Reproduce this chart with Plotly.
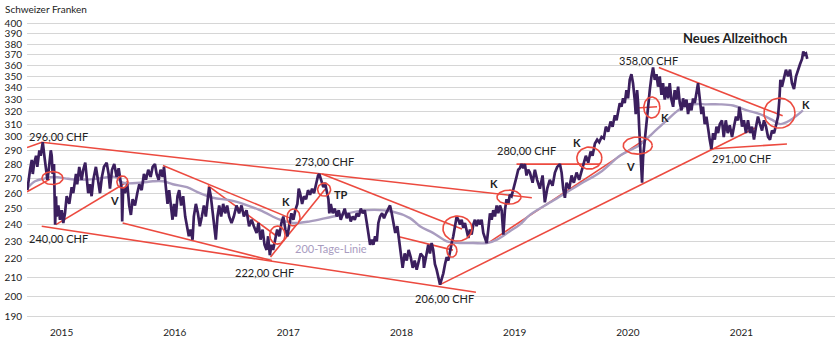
import math
import pandas as pd
import plotly.graph_objects as go

# ---------------------------------------------------------------------------
# Data: closing prices (CHF) as (decimal year, price) pairs
# ---------------------------------------------------------------------------
close_2014 = [(2014.782, 262), (2014.791, 269), (2014.806, 276), (2014.821, 283), (2014.830, 273),
              (2014.841, 280), (2014.859, 286), (2014.870, 278), (2014.888, 290), (2014.900, 286),
              (2014.918, 296), (2014.929, 288), (2014.947, 278), (2014.959, 269), (2014.971, 276),
              (2014.989, 290), (2014.997, 286)]
close_2015 = [(2015.006, 273), (2015.018, 280), (2015.028, 240), (2015.036, 258), (2015.041, 245),
              (2015.056, 252), (2015.071, 243), (2015.086, 249), (2015.100, 241), (2015.115, 247),
              (2015.130, 258), (2015.153, 253), (2015.174, 264), (2015.188, 260), (2015.212, 273),
              (2015.223, 266), (2015.241, 278), (2015.262, 269), (2015.276, 276), (2015.294, 281),
              (2015.306, 271), (2015.320, 260), (2015.335, 266), (2015.350, 258), (2015.365, 269),
              (2015.388, 278), (2015.406, 269), (2015.424, 260), (2015.441, 271), (2015.459, 278),
              (2015.483, 281), (2015.500, 273), (2015.512, 263), (2015.530, 276), (2015.550, 280),
              (2015.571, 271), (2015.589, 277), (2015.600, 269), (2015.615, 263), (2015.620, 242),
              (2015.629, 264), (2015.644, 260), (2015.665, 266), (2015.682, 252), (2015.697, 246),
              (2015.712, 256), (2015.733, 252), (2015.753, 260), (2015.771, 266), (2015.792, 262),
              (2015.812, 273), (2015.830, 269), (2015.850, 276), (2015.871, 271), (2015.889, 278),
              (2015.909, 280), (2015.924, 273), (2015.942, 269), (2015.959, 276), (2015.977, 271),
              (2015.989, 278)]
close_2016 = [(2016.006, 264), (2016.021, 253), (2016.035, 262), (2016.050, 252), (2016.065, 243),
              (2016.079, 253), (2016.094, 245), (2016.109, 258), (2016.124, 262), (2016.141, 252),
              (2016.159, 258), (2016.177, 245), (2016.194, 239), (2016.209, 233), (2016.224, 237),
              (2016.242, 231), (2016.253, 245), (2016.271, 253), (2016.289, 247), (2016.306, 239),
              (2016.324, 245), (2016.342, 252), (2016.359, 245), (2016.377, 256), (2016.388, 264),
              (2016.403, 258), (2016.418, 249), (2016.432, 241), (2016.447, 231), (2016.462, 245),
              (2016.477, 252), (2016.494, 245), (2016.512, 253), (2016.530, 247), (2016.547, 252),
              (2016.565, 245), (2016.586, 241), (2016.606, 245), (2016.630, 252), (2016.653, 247),
              (2016.674, 252), (2016.695, 245), (2016.718, 249), (2016.741, 239), (2016.763, 243),
              (2016.783, 239), (2016.807, 235), (2016.824, 241), (2016.842, 231), (2016.860, 237),
              (2016.877, 228), (2016.895, 225), (2016.909, 233), (2016.924, 222), (2016.939, 228),
              (2016.953, 225), (2016.971, 231), (2016.989, 237)]
close_2017 = [(2017.006, 233), (2017.024, 241), (2017.041, 245), (2017.059, 237), (2017.077, 233),
              (2017.094, 241), (2017.112, 247), (2017.130, 243), (2017.147, 249), (2017.165, 253),
              (2017.177, 263), (2017.189, 260), (2017.207, 253), (2017.224, 258), (2017.242, 256),
              (2017.259, 262), (2017.277, 259), (2017.295, 263), (2017.312, 260), (2017.330, 266),
              (2017.348, 272), (2017.359, 273), (2017.377, 269), (2017.394, 264), (2017.409, 267),
              (2017.424, 260), (2017.439, 256), (2017.447, 247), (2017.460, 253), (2017.477, 247),
              (2017.495, 250), (2017.513, 245), (2017.530, 249), (2017.548, 243), (2017.566, 247),
              (2017.583, 250), (2017.601, 244), (2017.619, 247), (2017.636, 242), (2017.654, 245),
              (2017.672, 243), (2017.689, 247), (2017.707, 245), (2017.725, 250), (2017.742, 247),
              (2017.760, 249), (2017.778, 241), (2017.792, 233), (2017.807, 228), (2017.822, 231),
              (2017.836, 228), (2017.851, 233), (2017.866, 230), (2017.880, 241), (2017.895, 245),
              (2017.913, 247), (2017.930, 244), (2017.948, 247), (2017.966, 250), (2017.983, 252),
              (2017.998, 247)]
close_2018 = [(2018.012, 241), (2018.030, 235), (2018.048, 239), (2018.065, 229), (2018.083, 219),
              (2018.095, 215), (2018.113, 223), (2018.131, 219), (2018.148, 225), (2018.166, 221),
              (2018.184, 215), (2018.201, 219), (2018.219, 214), (2018.237, 219), (2018.254, 223),
              (2018.277, 221), (2018.283, 215), (2018.301, 221), (2018.321, 228), (2018.336, 223),
              (2018.351, 229), (2018.365, 225), (2018.380, 217), (2018.395, 214), (2018.410, 210),
              (2018.425, 206), (2018.440, 209), (2018.454, 212), (2018.469, 217), (2018.484, 221),
              (2018.498, 219), (2018.513, 225), (2018.528, 229), (2018.542, 233), (2018.557, 239),
              (2018.572, 245), (2018.587, 243), (2018.601, 240), (2018.616, 243), (2018.630, 238),
              (2018.645, 241), (2018.660, 237), (2018.675, 232), (2018.689, 237), (2018.704, 234),
              (2018.719, 240), (2018.733, 243), (2018.748, 239), (2018.762, 243), (2018.777, 240),
              (2018.792, 243), (2018.807, 235), (2018.822, 232), (2018.837, 229), (2018.851, 237),
              (2018.866, 247), (2018.881, 243), (2018.895, 249), (2018.910, 245), (2018.925, 252),
              (2018.939, 247), (2018.954, 252), (2018.969, 249), (2018.984, 234), (2018.998, 249)]
close_2019 = [(2019.013, 256), (2019.028, 253), (2019.042, 259), (2019.057, 258), (2019.072, 262),
              (2019.087, 266), (2019.101, 271), (2019.116, 276), (2019.130, 277), (2019.145, 280),
              (2019.160, 277), (2019.175, 280), (2019.189, 272), (2019.204, 276), (2019.219, 274),
              (2019.243, 267), (2019.263, 276), (2019.283, 269), (2019.307, 263), (2019.331, 272),
              (2019.351, 254), (2019.372, 263), (2019.395, 269), (2019.419, 265), (2019.440, 274),
              (2019.460, 278), (2019.484, 280), (2019.499, 274), (2019.513, 263), (2019.528, 257),
              (2019.543, 267), (2019.566, 263), (2019.587, 272), (2019.607, 267), (2019.631, 274),
              (2019.654, 269), (2019.675, 276), (2019.696, 281), (2019.713, 286), (2019.734, 281),
              (2019.755, 289), (2019.772, 286), (2019.793, 295), (2019.813, 298), (2019.831, 296),
              (2019.852, 300), (2019.872, 299), (2019.890, 308), (2019.910, 304), (2019.931, 312),
              (2019.949, 308), (2019.969, 317), (2019.984, 313), (2019.999, 322)]
close_2020 = [(2020.013, 327), (2020.028, 324), (2020.042, 331), (2020.057, 327), (2020.072, 338),
              (2020.086, 331), (2020.101, 347), (2020.116, 352), (2020.130, 344), (2020.145, 330),
              (2020.154, 318), (2020.166, 338), (2020.175, 327), (2020.184, 308), (2020.196, 290),
              (2020.205, 269), (2020.210, 267), (2020.219, 285), (2020.234, 298), (2020.249, 313),
              (2020.263, 324), (2020.278, 338), (2020.293, 350), (2020.307, 358), (2020.322, 347),
              (2020.337, 352), (2020.351, 341), (2020.366, 350), (2020.381, 334), (2020.395, 344),
              (2020.410, 330), (2020.425, 341), (2020.440, 331), (2020.454, 344), (2020.469, 330),
              (2020.484, 324), (2020.498, 338), (2020.513, 330), (2020.528, 341), (2020.543, 327),
              (2020.558, 321), (2020.572, 331), (2020.587, 324), (2020.602, 330), (2020.616, 318),
              (2020.631, 327), (2020.646, 321), (2020.660, 331), (2020.675, 327), (2020.690, 338),
              (2020.704, 344), (2020.719, 331), (2020.734, 318), (2020.748, 324), (2020.763, 310),
              (2020.778, 316), (2020.793, 305), (2020.807, 298), (2020.822, 291), (2020.837, 303),
              (2020.852, 298), (2020.867, 308), (2020.881, 303), (2020.896, 310), (2020.915, 313),
              (2020.931, 300), (2020.949, 313), (2020.966, 303), (2020.984, 309)]
close_2021 = [(2021.002, 300), (2021.019, 308), (2021.037, 316), (2021.055, 313), (2021.066, 324),
              (2021.078, 318), (2021.090, 308), (2021.107, 313), (2021.125, 303), (2021.143, 313),
              (2021.161, 303), (2021.178, 308), (2021.196, 298), (2021.214, 308), (2021.231, 316),
              (2021.249, 310), (2021.267, 305), (2021.284, 313), (2021.302, 308), (2021.320, 300),
              (2021.337, 298), (2021.355, 305), (2021.373, 303), (2021.390, 309), (2021.408, 316),
              (2021.420, 330), (2021.429, 347), (2021.443, 341), (2021.461, 350), (2021.478, 356),
              (2021.496, 350), (2021.514, 356), (2021.531, 344), (2021.549, 339), (2021.567, 350),
              (2021.584, 356), (2021.602, 361), (2021.620, 366), (2021.631, 373), (2021.643, 370),
              (2021.655, 371), (2021.666, 366)]

# 200-day moving average (CHF)
ma200 = [(2014.779, 263), (2014.850, 268), (2014.938, 270), (2015.026, 271), (2015.115, 270),
         (2015.247, 269), (2015.424, 270), (2015.556, 271), (2015.627, 267), (2015.777, 267),
         (2015.891, 268), (2015.980, 268), (2016.068, 266), (2016.192, 264), (2016.306, 260),
         (2016.421, 257), (2016.598, 255), (2016.836, 249), (2017.012, 243), (2017.127, 241),
         (2017.277, 242), (2017.480, 245), (2017.780, 249), (2018.010, 248), (2018.160, 244),
         (2018.248, 239), (2018.363, 235), (2018.486, 230), (2018.601, 229), (2018.716, 229),
         (2018.840, 229), (2018.928, 231), (2019.042, 236), (2019.130, 240), (2019.219, 246),
         (2019.422, 255), (2019.660, 266), (2019.837, 274), (2020.013, 286), (2020.101, 290),
         (2020.190, 294), (2020.305, 303), (2020.428, 313), (2020.543, 322), (2020.658, 326),
         (2020.781, 326), (2020.896, 326), (2021.011, 325), (2021.134, 321), (2021.249, 318),
         (2021.364, 313), (2021.425, 310), (2021.514, 313), (2021.628, 321)]

# Trend lines: (start year, start CHF, end year, end CHF)
trend_lines = [
    (2014.779, 292, 2014.912, 296),
    (2014.909, 296, 2019.236, 257),
    (2014.779, 261, 2014.982, 269.5),
    (2015.035, 240, 2015.673, 268),
    (2014.909, 239, 2018.742, 202),
    (2015.624, 241, 2016.942, 219),
    (2016.930, 221, 2017.410, 262.6),
    (2015.980, 279, 2017.101, 244),
    (2016.377, 265, 2016.986, 233),
    (2017.383, 273, 2018.619, 237.3),
    (2018.054, 232.8, 2018.539, 224.9),
    (2018.425, 206, 2021.205, 307),
    (2018.848, 229, 2020.216, 297),
    (2019.101, 280, 2019.837, 280),
    (2020.160, 323, 2020.342, 324),
    (2020.358, 358, 2021.449, 316.6),
    (2020.807, 291, 2021.487, 294.7),
]

# Highlighted zones: centre (year, CHF)
circle_at = [(2015.004, 270.2), (2015.622, 267.5), (2016.990, 233.7), (2017.131, 244.4),
             (2017.401, 262.4), (2018.579, 237.6), (2018.530, 224.6), (2019.034, 257.4),
             (2019.744, 284.3), (2020.172, 293.5), (2020.296, 323.4), (2021.421, 318.8)]
# ... and their on-screen size (width, height) in pixels
circle_px = [(21, 13), (11, 12), (15, 18), (13, 17), (13, 13), (29, 25), (10, 13), (24, 14),
             (25, 22), (29, 17), (16, 21), (31, 30)]

# Price labels: (text, year, CHF) – anchored on the left
price_labels = [("296,00 CHF", 2014.781, 300.7), ("273,00 CHF", 2017.127, 281.6),
                ("240,00 CHF", 2014.781, 231.6), ("222,00 CHF", 2016.598, 212.3),
                ("206,00 CHF", 2018.186, 198.6), ("280,00 CHF", 2018.910, 290.2),
                ("358,00 CHF", 2019.987, 364.3), ("291,00 CHF", 2020.807, 284.1)]

# Signal markers: (text, year, CHF) – centred
signal_labels = [("V", 2015.556, 255.5), ("V", 2020.110, 278.1), ("K", 2017.063, 254.4),
                 ("TP", 2017.546, 259.2), ("K", 2018.901, 266.3), ("K", 2019.631, 295.7),
                 ("K", 2020.410, 315.4), ("K", 2021.652, 326.2)]

y_ticks = list(range(190, 401, 10))
year_ticks = [2015, 2016, 2017, 2018, 2019, 2020, 2021]

# ---------------------------------------------------------------------------
FONT = "Lato"
DARK = "#3b1f5e"
MA_COL = "#a99cbf"
RED = "#ec4a3f"
TXT = "#222222"

W, H = 840, 342
M = dict(l=27, r=5, t=14, b=20)
X_RANGE = (2014.779, 2021.911)
Y_RANGE = (187.3, 410.3)
PX_PER_YEAR = (W - M["l"] - M["r"]) / (X_RANGE[1] - X_RANGE[0])
PX_PER_DECADE = (H - M["t"] - M["b"]) / (math.log10(Y_RANGE[1]) - math.log10(Y_RANGE[0]))


def to_date(t):
    y = int(t)
    return pd.Timestamp(year=y, month=1, day=1) + pd.Timedelta(days=(t - y) * 365.25)


closes = close_2014 + close_2015 + close_2016 + close_2017 + close_2018 + close_2019 + close_2020 + close_2021

fig = go.Figure()

# trend lines (one trace, segments separated by gaps)
tx, ty = [], []
for t0, v0, t1, v1 in trend_lines:
    tx += [to_date(t0), to_date(t1), None]
    ty += [v0, v1, None]
fig.add_trace(go.Scatter(x=tx, y=ty, mode="lines", line=dict(color=RED, width=1.6),
                         hoverinfo="skip", showlegend=False))

fig.add_trace(go.Scatter(x=[to_date(t) for t, _ in ma200], y=[v for _, v in ma200],
                         mode="lines", line=dict(color=MA_COL, width=2.4, shape="spline"),
                         showlegend=False))

fig.add_trace(go.Scatter(x=[to_date(t) for t, _ in closes], y=[v for _, v in closes],
                         mode="lines", line=dict(color=DARK, width=2.7),
                         showlegend=False))

# ellipses around the signal zones, sized in screen pixels
ex, ey = [], []
N = 60
for (t, v), (w, h) in zip(circle_at, circle_px):
    for i in range(N + 1):
        a = 2 * math.pi * i / N
        ex.append(to_date(t + (w / 2) * math.cos(a) / PX_PER_YEAR))
        ey.append(v * 10 ** ((h / 2) * math.sin(a) / PX_PER_DECADE))
    ex.append(None)
    ey.append(None)
fig.add_trace(go.Scatter(x=ex, y=ey, mode="lines", line=dict(color=RED, width=1.6),
                         hoverinfo="skip", showlegend=False))

annotations = []
for text, t, v in price_labels:
    annotations.append(dict(text=text, x=to_date(t), y=math.log10(v), xref="x", yref="y",
                            xanchor="left", yanchor="middle", showarrow=False,
                            font=dict(family=FONT, size=11, color=TXT)))
for text, t, v in signal_labels:
    annotations.append(dict(text=f"<b>{text}</b>", x=to_date(t), y=math.log10(v), xref="x", yref="y",
                            xanchor="center", yanchor="middle", showarrow=False,
                            font=dict(family=FONT, size=11, color=TXT)))
annotations.append(dict(text="<b>Neues Allzeithoch</b>", x=to_date(2020.552), y=math.log10(386.3),
                        xref="x", yref="y", xanchor="left", yanchor="middle", showarrow=False,
                        font=dict(family=FONT, size=13, color=TXT)))
annotations.append(dict(text="200-Tage-Linie", x=to_date(2017.127), y=math.log10(225.9),
                        xref="x", yref="y", xanchor="left", yanchor="middle", showarrow=False,
                        font=dict(family=FONT, size=11, color=MA_COL)))
annotations.append(dict(text="Schweizer Franken", x=-0.0297, y=1.016, xref="paper", yref="paper",
                        xanchor="left", yanchor="middle", showarrow=False,
                        font=dict(family=FONT, size=10, color=TXT)))

fig.update_layout(
    width=W, height=H,
    margin=M,
    paper_bgcolor="white", plot_bgcolor="white",
    font=dict(family=FONT, color=TXT),
    annotations=annotations,
    showlegend=False,
)
fig.update_xaxes(type="date", range=[to_date(X_RANGE[0]), to_date(X_RANGE[1])],
                 tickvals=[pd.Timestamp(year=y, month=2, day=1) for y in year_ticks],
                 ticktext=[str(y) for y in year_ticks],
                 showgrid=False, zeroline=False, showline=False, ticks="",
                 ticklabelstandoff=3,
                 tickfont=dict(family=FONT, size=10, color=TXT))
fig.update_yaxes(type="log", range=[math.log10(Y_RANGE[0]), math.log10(Y_RANGE[1])],
                 tickvals=y_ticks, ticktext=[str(v) for v in y_ticks],
                 showgrid=True, gridcolor="#d6d6d6", gridwidth=1,
                 zeroline=False, showline=False, ticks="",
                 ticklabelstandoff=4,
                 tickfont=dict(family=FONT, size=10, color=TXT))

fig.write_html("out.html")
